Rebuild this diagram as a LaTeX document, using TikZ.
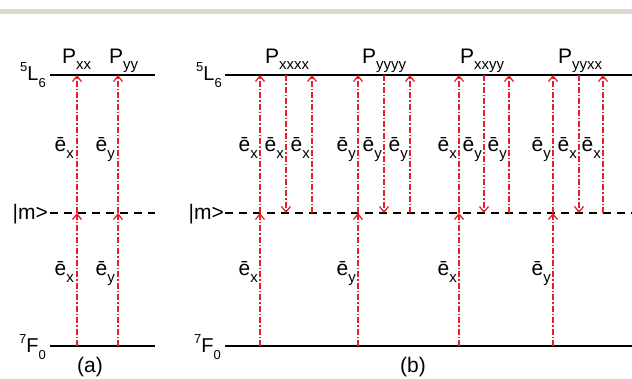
\documentclass[tikz,border=0pt]{standalone}
\usepackage{fontspec}
\setmainfont{Liberation Sans}
\usetikzlibrary{arrows.meta}
\definecolor{band}{RGB}{221,216,202}
\definecolor{arrred}{RGB}{232,30,40}
\newcommand\lab[2]{\fontsize{21}{21}\selectfont #1\raisebox{-7pt}{\fontsize{15}{15}\selectfont #2}}
\newcommand\plb[2]{\fontsize{21}{21}\selectfont #1\raisebox{-6pt}{\fontsize{15}{15}\selectfont #2}}
\newcommand\lvl[3]{\fontsize{20}{20}\selectfont\raisebox{9pt}{\fontsize{13}{13}\selectfont #1}#2\raisebox{-7pt}{\fontsize{13}{13}\selectfont #3}}
\begin{document}
\begin{tikzpicture}[x=1pt,y=-1pt,
  level/.style={line width=1.5pt,black},
  virt/.style={line width=1.5pt,black,dash pattern=on 8pt off 6pt},
  trans/.style={arrred,line width=1.3pt,dash pattern=on 6pt off 2pt on 1.5pt off 2pt,-{Straight Barb[length=5.5pt,width=9pt,line width=1.3pt]}},
  elab/.style={anchor=base east,inner sep=0pt},
  plab/.style={anchor=base west,inner sep=0pt},
  txt/.style={inner sep=0pt,font=\fontsize{21}{21}\selectfont}]
\useasboundingbox (0,0) rectangle (632,378);
\fill[band] (0,9) rectangle (632,14);

% ---------- panel (a) ----------
\coordinate (aL1) at (50,75);  \coordinate (aL2) at (155,75);
\coordinate (aM1) at (50,213); \coordinate (aM2) at (155,213);
\coordinate (aF1) at (50,346); \coordinate (aF2) at (155,346);
\draw[level] (aL1) -- (aL2);
\draw[virt] (aM1) -- (aM2);
\draw[level] (aF1) -- (aF2);
\node[txt,anchor=base east] (aLlab) at (46,80) {\lvl{5}{L}{6}};
\node[txt,anchor=base east] (aMlab) at (48,219) {|m>};
\node[txt,anchor=base east] (aFlab) at (46,352) {\lvl{7}{F}{0}};
\node[txt] (acap) at (90,367) {(a)};
\foreach \n/\x in {1/77,2/118}{
  \coordinate (aA\n) at (\x,346);
  \coordinate (aB\n) at (\x,213);
  \coordinate (aC\n) at (\x,75);
  \draw[trans] (aA\n) -- (aB\n);
  \draw[trans] (aB\n) -- (aC\n);
}
\node[plab] (pxx) at (62,63) {\plb{P}{xx}};
\node[plab] (pyy) at (109,63) {\plb{P}{yy}};
\node[elab] (ae1) at (74,151) {\lab{ē}{x}};
\node[elab] (ae2) at (115,151) {\lab{ē}{y}};
\node[elab] (ae3) at (74,275) {\lab{ē}{x}};
\node[elab] (ae4) at (115,275) {\lab{ē}{y}};

% ---------- panel (b) ----------
\coordinate (bL1) at (225,75);  \coordinate (bL2) at (632,75);
\coordinate (bM1) at (225,213); \coordinate (bM2) at (632,213);
\coordinate (bF1) at (225,346); \coordinate (bF2) at (632,346);
\draw[level] (bL1) -- (bL2);
\draw[virt] (bM1) -- (bM2);
\draw[level] (bF1) -- (bF2);
\node[txt,anchor=base east] (bLlab) at (222,80) {\lvl{5}{L}{6}};
\node[txt,anchor=base east] (bMlab) at (224,219) {|m>};
\node[txt,anchor=base east] (bFlab) at (221,352) {\lvl{7}{F}{0}};
\node[txt] (bcap) at (413,367) {(b)};

\foreach \g/\xa/\xb/\xc/\xp/\P/\la/\lb/\lc/\ld in {
   1/260/286/312/265/xxxx/x/x/x/x,
   2/358/384/410/362/yyyy/y/y/y/y,
   3/459/484/509/460/xxyy/x/y/y/x,
   4/553/579/603/558/yyxx/y/x/x/y}{
  \coordinate (bA\g) at (\xa,346);
  \coordinate (bB\g) at (\xa,213);
  \coordinate (bC\g) at (\xa,75);
  \coordinate (bD\g) at (\xb,75);
  \coordinate (bE\g) at (\xb,213);
  \coordinate (bF\g) at (\xc,213);
  \coordinate (bG\g) at (\xc,75);
  \draw[trans] (bA\g) -- (bB\g);
  \draw[trans] (bB\g) -- (bC\g);
  \draw[trans] (bD\g) -- (bE\g);
  \draw[trans] (bF\g) -- (bG\g);
  \node[elab] (be1\g) at ([shift={(-2,76)}]bC\g) {\lab{ē}{\la}};
  \node[elab] (be2\g) at ([shift={(-2,76)}]bD\g) {\lab{ē}{\lb}};
  \node[elab] (be3\g) at ([shift={(-2,76)}]bG\g) {\lab{ē}{\lc}};
  \node[elab] (be4\g) at ([shift={(-2,-71)}]bA\g) {\lab{ē}{\ld}};
  \node[plab] (bp\g) at (\xp,63) {\plb{P}{\P}};
}
\end{tikzpicture}
\end{document}
